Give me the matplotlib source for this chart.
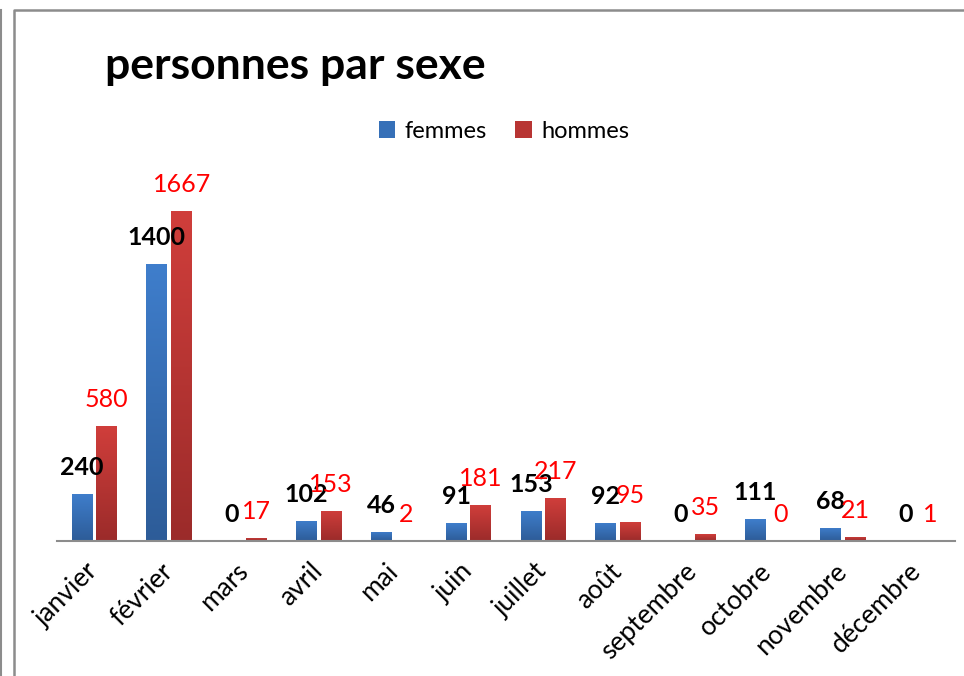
import numpy as np
import matplotlib
matplotlib.use("Agg")
import matplotlib.pyplot as plt
from matplotlib.colors import LinearSegmentedColormap
from matplotlib.lines import Line2D

plt.rcParams['font.family'] = ['Lato', 'DejaVu Sans']

mois = ["janvier", "février", "mars", "avril", "mai", "juin", "juillet",
        "août", "septembre", "octobre", "novembre", "décembre"]
femmes = [240, 1400, 0, 102, 46, 91, 153, 92, 0, 111, 68, 0]
hommes = [580, 1667, 17, 153, 2, 181, 217, 95, 35, 0, 21, 1]

bleu = LinearSegmentedColormap.from_list("bleu", ["#2d5c98", "#3f7ecc"])
rouge = LinearSegmentedColormap.from_list("rouge", ["#9b2b2a", "#d03e3b"])

fig = plt.figure(figsize=(9.64, 6.76), dpi=100)
ax = fig.add_axes([57 / 964, 1 - 541 / 676, 898 / 964, 356 / 676])

x = np.arange(len(mois))
w = 0.28
off = 0.165
b1 = ax.bar(x - off, femmes, w, color="#3670b8", label="femmes", zorder=2)
b2 = ax.bar(x + off, hommes, w, color="#b83533", label="hommes", zorder=2)

# degrade vertical dans chaque barre
grad = np.linspace(0, 1, 256).reshape(-1, 1)
for bars, cm in [(b1, bleu), (b2, rouge)]:
    for p in bars:
        h = p.get_height()
        if h <= 0:
            continue
        x0 = p.get_x()
        im = ax.imshow(grad, cmap=cm, origin="lower", aspect="auto",
                       extent=(x0, x0 + p.get_width(), 0, h), zorder=2.5)
        im.set_clip_path(p)

for p, v in zip(b1, femmes):
    ax.annotate(str(v), (p.get_x() + p.get_width() / 2, v), xytext=(0, 19),
                textcoords="offset points", ha="center", va="center",
                fontsize=18, fontweight="bold", color="black")
for p, v in zip(b2, hommes):
    ax.annotate(str(v), (p.get_x() + p.get_width() / 2, v), xytext=(0, 19),
                textcoords="offset points", ha="center", va="center",
                fontsize=18, color="#ff0000")

ax.set_xlim(-0.5, len(mois) - 0.5)
ax.set_ylim(0, 1800)
ax.set_yticks([])
ax.set_xticks(x)
ax.set_xticklabels(mois, rotation=45, ha="right", va="center",
                   rotation_mode="anchor", fontsize=19)
ax.tick_params(axis="x", length=0, pad=19)
for s in ["top", "right", "left"]:
    ax.spines[s].set_visible(False)
ax.spines["bottom"].set_color("#8c8c8c")
ax.spines["bottom"].set_linewidth(1.5)
ax.spines["bottom"].set_zorder(3)

fig.text(105 / 964, 1 - 66 / 676, "personnes par sexe", ha="left", va="center",
         fontsize=32, fontweight="bold")

fig.legend(handles=[b1, b2], labels=["femmes", "hommes"], loc="center",
           bbox_to_anchor=(504 / 964, 1 - 131 / 676), ncol=2, frameon=False,
           fontsize=17, handlelength=0.7, handleheight=0.7,
           handletextpad=0.4, columnspacing=1.2)

# cadre
fig.add_artist(Line2D([1 / 964, 1 / 964], [0, 1 - 10 / 676],
                      transform=fig.transFigure, color="#8c8c8c", lw=1.5))
fig.add_artist(Line2D([14 / 964, 14 / 964, 1], [0, 1 - 9.5 / 676, 1 - 9.5 / 676],
                      transform=fig.transFigure, color="#8c8c8c", lw=1.8))

fig.savefig("out.png", dpi=100)
